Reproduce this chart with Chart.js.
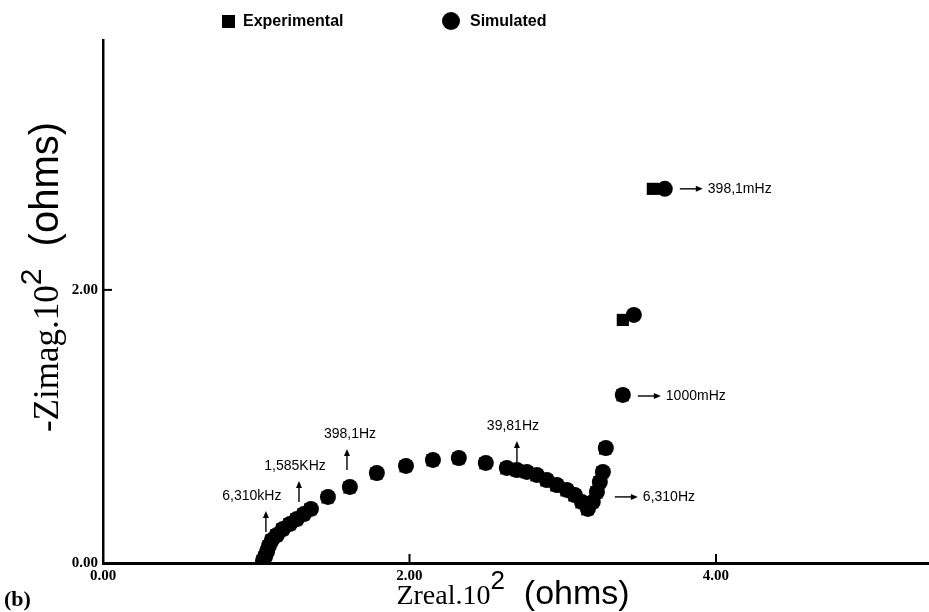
<!DOCTYPE html>
<html>
<head>
<meta charset="utf-8">
<script src="https://cdn.jsdelivr.net/npm/chart.js@4.4.0/dist/chart.umd.min.js"></script>
<style>
  html, body { margin: 0; padding: 0; background: #fff; overflow: hidden; }
  #wrap { width: 929px; height: 612px; position: relative; }
</style>
</head>
<body>
<div id="wrap"><canvas id="nyquist"></canvas></div>
<script>
// Nyquist data, both axes in units of 10^2 ohms
const simReal = [1.044, 1.057, 1.070, 1.083, 1.102, 1.135, 1.174, 1.220, 1.265, 1.311, 1.357, 1.468,
                 1.611, 1.787, 1.977, 2.153, 2.322, 2.498, 2.635, 2.701, 2.766, 2.831, 2.896, 2.962,
                 3.027, 3.079, 3.125, 3.164, 3.196, 3.223, 3.242, 3.262, 3.281, 3.392, 3.464, 3.666];
const simImag = [0.015, 0.044, 0.081, 0.125, 0.168, 0.205, 0.249, 0.286, 0.322, 0.359, 0.396, 0.484,
                 0.557, 0.659, 0.711, 0.755, 0.769, 0.733, 0.696, 0.681, 0.667, 0.645, 0.608, 0.571,
                 0.535, 0.498, 0.447, 0.396, 0.447, 0.520, 0.593, 0.667, 0.842, 1.231, 1.817, 2.740];
const expReal = [1.040, 1.052, 1.066, 1.080, 1.098, 1.130, 1.170, 1.216, 1.262, 1.308, 1.353, 1.465,
                 1.608, 1.784, 1.974, 2.150, 2.320, 2.495, 2.632, 2.698, 2.763, 2.828, 2.893, 2.958,
                 3.024, 3.076, 3.122, 3.160, 3.192, 3.219, 3.238, 3.258, 3.277, 3.390, 3.392, 3.588];
const expImag = [0.015, 0.040, 0.078, 0.122, 0.164, 0.202, 0.246, 0.283, 0.320, 0.356, 0.393, 0.480,
                 0.553, 0.655, 0.708, 0.752, 0.766, 0.730, 0.693, 0.678, 0.664, 0.642, 0.605, 0.568,
                 0.532, 0.495, 0.444, 0.393, 0.444, 0.516, 0.590, 0.663, 0.838, 1.228, 1.780, 2.740];

const seriesNames = ["Experimental", "Simulated"];
const xTickValues = [0, 2, 4];
const yTickValues = [0, 2];

// frequency call-outs: text, arrow tail (data units), direction
const freqNotes = [
  { text: "6,310kHz", x: 1.063, y: 0.227, dir: "up", dx: -14 },
  { text: "1,585KHz", x: 1.279, y: 0.447, dir: "up", dx: -4 },
  { text: "398,1Hz",  x: 1.592, y: 0.681, dir: "up", dx: 3 },
  { text: "39,81Hz",  x: 2.701, y: 0.740, dir: "up", dx: -4 },
  { text: "6,310Hz",  x: 3.340, y: 0.484, dir: "right" },
  { text: "1000mHz",  x: 3.490, y: 1.223, dir: "right" },
  { text: "398,1mHz", x: 3.764, y: 2.740, dir: "right" }
];

const SANS = "'Liberation Sans', Arial, sans-serif";
const SERIF = "'Liberation Serif', 'Times New Roman', serif";

function toPoints(xs, ys) {
  return xs.map((v, i) => ({ x: v, y: ys[i] }));
}

function arrow(ctx, x1, y1, x2, y2) {
  const a = Math.atan2(y2 - y1, x2 - x1);
  const c = Math.cos(a), s = Math.sin(a);
  ctx.beginPath();
  ctx.moveTo(x1, y1);
  ctx.lineTo(x2 - 5 * c, y2 - 5 * s);
  ctx.stroke();
  ctx.beginPath();
  ctx.moveTo(x2, y2);
  ctx.lineTo(x2 - 7 * c + 3 * s, y2 - 7 * s - 3 * c);
  ctx.lineTo(x2 - 7 * c - 3 * s, y2 - 7 * s + 3 * c);
  ctx.closePath();
  ctx.fill();
}

// draws a title made of runs with different fonts, centred on 0
function drawRuns(ctx, runs) {
  let total = 0;
  runs.forEach(r => { ctx.font = r.font; r.w = ctx.measureText(r.t).width; total += r.w; });
  let cx = -total / 2;
  runs.forEach(r => {
    ctx.font = r.font;
    ctx.fillText(r.t, cx, -(r.rise || 0));
    cx += r.w;
  });
}

const decorations = {
  id: "decorations",
  afterDraw(chart) {
    const { ctx, chartArea } = chart;
    const xs = chart.scales.x, ys = chart.scales.y;
    ctx.save();
    ctx.fillStyle = "#000";
    ctx.strokeStyle = "#000";

    // inward tick marks
    ctx.lineWidth = 2;
    xTickValues.slice(1).forEach(v => {
      const px = xs.getPixelForValue(v);
      ctx.beginPath(); ctx.moveTo(px, chartArea.bottom); ctx.lineTo(px, chartArea.bottom - 9); ctx.stroke();
    });
    yTickValues.slice(1).forEach(v => {
      const py = ys.getPixelForValue(v);
      ctx.beginPath(); ctx.moveTo(chartArea.left, py); ctx.lineTo(chartArea.left + 9, py); ctx.stroke();
    });

    // frequency call-outs
    ctx.lineWidth = 1.4;
    ctx.font = "14px " + SANS;
    ctx.textBaseline = "middle";
    freqNotes.forEach(n => {
      const px = xs.getPixelForValue(n.x), py = ys.getPixelForValue(n.y);
      if (n.dir === "up") {
        arrow(ctx, px, py, px, py - 21);
        ctx.textAlign = "center";
        ctx.fillText(n.text, px + n.dx, py - 36);
      } else {
        arrow(ctx, px, py, px + 23, py);
        ctx.textAlign = "left";
        ctx.fillText(n.text, px + 28, py);
      }
    });

    // legend
    ctx.fillRect(222, 15, 13, 13);
    ctx.beginPath(); ctx.arc(451, 21, 9, 0, Math.PI * 2); ctx.fill();
    ctx.font = "bold 16px " + SANS;
    ctx.textAlign = "left";
    ctx.fillText(seriesNames[0], 243, 22);
    ctx.fillText(seriesNames[1], 470, 22);

    // axis titles
    ctx.textAlign = "left";
    ctx.textBaseline = "alphabetic";
    ctx.save();
    ctx.translate(513, 604);
    drawRuns(ctx, [
      { t: "Zreal.10", font: "28px " + SERIF },
      { t: "2", font: "26px " + SANS, rise: 15 },
      { t: "  (ohms)", font: "34px " + SANS }
    ]);
    ctx.restore();

    ctx.save();
    ctx.translate(58, 277);
    ctx.rotate(-Math.PI / 2);
    drawRuns(ctx, [
      { t: "-Zimag.10", font: "35px " + SERIF },
      { t: "2", font: "30px " + SANS, rise: 17 },
      { t: "  (ohms)", font: "40px " + SANS }
    ]);
    ctx.restore();

    ctx.font = "bold 22px " + SERIF;
    ctx.fillText("(b)", 4, 606);
    ctx.restore();
  }
};

const tickFont = { family: SERIF, size: 15, weight: "bold" };

new Chart(document.getElementById("nyquist"), {
  type: "scatter",
  data: {
    datasets: [
      {
        label: seriesNames[0],
        data: toPoints(expReal, expImag),
        pointStyle: "rect",
        pointRadius: 8.6,
        backgroundColor: "#000",
        borderColor: "#000",
        borderWidth: 0
      },
      {
        label: seriesNames[1],
        data: toPoints(simReal, simImag),
        pointStyle: "circle",
        pointRadius: 8,
        backgroundColor: "#000",
        borderColor: "#000",
        borderWidth: 0
      }
    ]
  },
  options: {
    responsive: true,
    maintainAspectRatio: false,
    animation: false,
    layout: { autoPadding: false, padding: { top: 40, right: 0, left: 0, bottom: 0 } },
    plugins: { legend: { display: false }, tooltip: { enabled: false } },
    scales: {
      x: {
        type: "linear",
        min: 0,
        max: 5.39,
        afterFit: s => { s.height = 49; s.paddingLeft = 0; s.paddingRight = 0; },
        afterBuildTicks: s => { s.ticks = xTickValues.map(v => ({ value: v })); },
        grid: { display: false, drawTicks: false },
        border: { display: true, color: "#000", width: 3 },
        ticks: { color: "#000", font: tickFont, padding: 4, maxRotation: 0, callback: v => v.toFixed(2) }
      },
      y: {
        type: "linear",
        min: 0,
        max: 3.83,
        afterFit: s => { s.width = 103; s.paddingTop = 0; s.paddingBottom = 0; },
        afterBuildTicks: s => { s.ticks = yTickValues.map(v => ({ value: v })); },
        grid: { display: false, drawTicks: false },
        border: { display: true, color: "#000", width: 2.5 },
        ticks: { color: "#000", font: tickFont, padding: 5, callback: v => v.toFixed(2) }
      }
    }
  },
  plugins: [decorations]
});
</script>
</body>
</html>
